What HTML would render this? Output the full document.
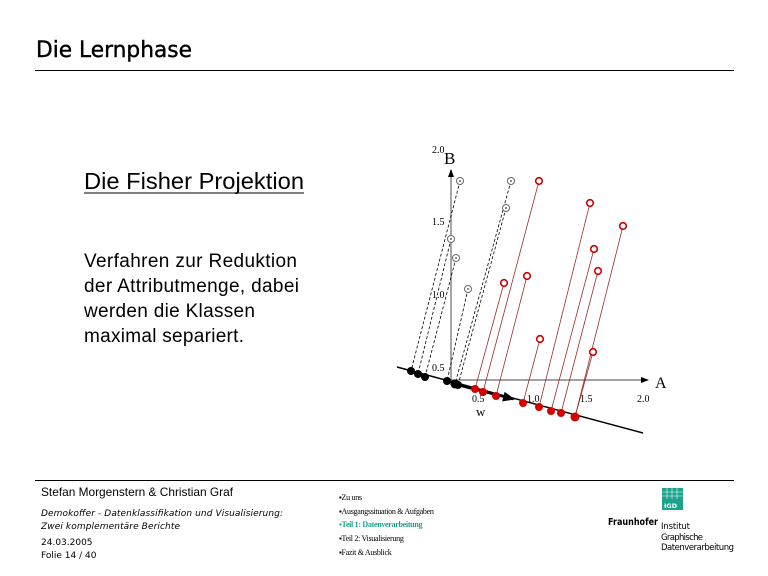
<!DOCTYPE html>
<html><head><meta charset="utf-8"><style>
html,body{margin:0;padding:0;background:#fff;width:768px;height:576px;overflow:hidden}
svg{display:block}
</style></head><body>
<svg width="768" height="576" viewBox="0 0 768 576" xmlns="http://www.w3.org/2000/svg">
<defs>
<marker id="ah" markerWidth="8" markerHeight="8" refX="7" refY="4" orient="auto" markerUnits="userSpaceOnUse"><path d="M0,1 L8,4 L0,7z" fill="#000"/></marker>
<marker id="ah2" markerWidth="12" markerHeight="10" refX="10" refY="5" orient="auto" markerUnits="userSpaceOnUse"><path d="M0,0 L12,5 L0,10z" fill="#000"/></marker>
</defs>
<text x="36" y="57" font-family="DejaVu Sans, sans-serif" font-size="22" fill="#000" stroke="#000" stroke-width="0.4" textLength="156" lengthAdjust="spacingAndGlyphs">Die Lernphase</text>
<line x1="35" y1="70.5" x2="734" y2="70.5" stroke="#000" stroke-width="1"/>

<text x="84" y="189" font-family="Liberation Sans, sans-serif" font-size="23" fill="#000" textLength="220" lengthAdjust="spacingAndGlyphs">Die Fisher Projektion</text>
<line x1="84" y1="193" x2="304" y2="193" stroke="#000" stroke-width="1"/>
<g font-family="Liberation Sans, sans-serif" font-size="19" fill="#000" lengthAdjust="spacingAndGlyphs">
<text x="84" y="267" textLength="213">Verfahren zur Reduktion</text>
<text x="84" y="292" textLength="215">der Attributmenge, dabei</text>
<text x="84" y="317" textLength="171">werden die Klassen</text>
<text x="84" y="342" textLength="160">maximal separiert.</text>
</g>

<line x1="451" y1="385" x2="451" y2="170" stroke="#888" stroke-width="1.5" marker-end="url(#ah)"/>
<line x1="451" y1="380" x2="648" y2="380" stroke="#444" stroke-width="1" marker-end="url(#ah)"/>
<g font-family="Liberation Serif, serif" font-size="10" fill="#000">
<text x="432" y="153">2.0</text>
<text x="432" y="225">1.5</text>
<text x="432" y="298">1.0</text>
<text x="432" y="371">0.5</text>
<text x="472" y="402">0.5</text>
<text x="527" y="402">1.0</text>
<text x="580" y="402">1.5</text>
<text x="637" y="402">2.0</text>
<text x="476" y="416" font-size="13">w</text>
</g>
<text x="444" y="164" font-family="Liberation Serif, serif" font-size="17">B</text>
<text x="655" y="388" font-family="Liberation Serif, serif" font-size="16">A</text>

<line x1="397" y1="367" x2="643" y2="433" stroke="#000" stroke-width="1.5"/>
<line x1="458" y1="385" x2="513" y2="399" stroke="#000" stroke-width="2.5" marker-end="url(#ah2)"/>

<g stroke="#000" stroke-width="0.8" stroke-dasharray="3,2" fill="none">
<line x1="460" y1="181" x2="411" y2="371"/>
<line x1="451" y1="239" x2="418" y2="374"/>
<line x1="456" y1="258" x2="425" y2="377"/>
<line x1="468" y1="289" x2="447" y2="381"/>
<line x1="511" y1="181" x2="455" y2="384"/>
<line x1="506" y1="208" x2="458" y2="385"/>
</g>
<g stroke="#9b2a2a" stroke-width="0.8" fill="none">
<line x1="504" y1="283" x2="475" y2="389"/>
<line x1="539" y1="181" x2="483" y2="392"/>
<line x1="527" y1="276" x2="496" y2="396"/>
<line x1="540" y1="339" x2="523" y2="403"/>
<line x1="590" y1="203" x2="539" y2="407"/>
<line x1="594" y1="249" x2="551" y2="411"/>
<line x1="598" y1="271" x2="561" y2="413"/>
<line x1="593" y1="352" x2="575" y2="417"/>
<line x1="623" y1="226" x2="575" y2="417"/>
</g>
<g stroke="#666" fill="#fff" stroke-width="1">
<circle cx="460" cy="181" r="3.5"/><circle cx="511" cy="181" r="3.5"/><circle cx="506" cy="208" r="3.5"/>
<circle cx="451" cy="239" r="3.5"/><circle cx="456" cy="258" r="3.5"/><circle cx="468" cy="289" r="3.5"/>
</g>
<g fill="#666"><circle cx="460" cy="181" r="1"/><circle cx="511" cy="181" r="1"/><circle cx="506" cy="208" r="1"/><circle cx="451" cy="239" r="1"/><circle cx="456" cy="258" r="1"/><circle cx="468" cy="289" r="1"/></g>
<g stroke="#cc0000" fill="#fff" stroke-width="1.6">
<circle cx="539" cy="181" r="3.3"/><circle cx="590" cy="203" r="3.3"/><circle cx="623" cy="226" r="3.3"/>
<circle cx="594" cy="249" r="3.3"/><circle cx="598" cy="271" r="3.3"/><circle cx="527" cy="276" r="3.3"/>
<circle cx="504" cy="283" r="3.3"/><circle cx="540" cy="339" r="3.3"/><circle cx="593" cy="352" r="3.3"/>
</g>
<g fill="#000">
<circle cx="411" cy="371" r="4"/><circle cx="418" cy="374" r="4"/><circle cx="425" cy="377" r="4"/>
<circle cx="447" cy="381" r="4"/><circle cx="455" cy="384" r="4.5"/><circle cx="458" cy="385" r="4"/>
</g>
<g fill="#d40000">
<circle cx="475" cy="389" r="4"/><circle cx="483" cy="392" r="4"/><circle cx="496" cy="396" r="4"/>
<circle cx="523" cy="403" r="4"/><circle cx="539" cy="407" r="4"/><circle cx="551" cy="411" r="4"/>
<circle cx="561" cy="413" r="4"/><circle cx="575" cy="417" r="4.5"/>
</g>

<line x1="35" y1="480.5" x2="734" y2="480.5" stroke="#000" stroke-width="1"/>
<text x="41" y="496" font-family="Liberation Sans, sans-serif" font-size="12" textLength="192" lengthAdjust="spacingAndGlyphs">Stefan Morgenstern &amp; Christian Graf</text>
<g font-family="DejaVu Sans, sans-serif" font-size="9" font-style="italic" lengthAdjust="spacingAndGlyphs">
<text x="41" y="516" textLength="242">Demokoffer - Datenklassifikation und Visualisierung:</text>
<text x="41" y="529" textLength="139">Zwei komplementäre Berichte</text>
</g>
<g font-family="DejaVu Sans, sans-serif" font-size="9">
<text x="41" y="545">24.03.2005</text>
<text x="41" y="558">Folie 14 / 40</text>
</g>
<g font-family="Liberation Serif, serif" font-size="8" letter-spacing="-0.3">
<text x="339" y="500">▪Zu uns</text>
<text x="339" y="514">▪Ausgangssituation &amp; Aufgaben</text>
<text x="339" y="527" fill="#1aa38a" font-weight="bold">▪Teil 1: Datenverarbeitung</text>
<text x="339" y="541">▪Teil 2: Visualisierung</text>
<text x="339" y="555">▪Fazit &amp; Ausblick</text>
</g>
<rect x="662" y="488" width="21" height="22" fill="#1aa38a"/>
<g stroke="#fff" stroke-width="0.6">
<line x1="662" y1="492" x2="683" y2="492"/><line x1="662" y1="496" x2="683" y2="496"/>
<line x1="667" y1="488" x2="667" y2="499"/><line x1="672" y1="488" x2="672" y2="499"/><line x1="677" y1="488" x2="677" y2="499"/>
</g>
<text x="664" y="508" font-family="DejaVu Sans, sans-serif" font-size="6.5" font-weight="bold" fill="#fff">IGD</text>
<text x="608" y="525" font-family="DejaVu Sans, sans-serif" font-size="10" font-weight="bold" textLength="50" lengthAdjust="spacingAndGlyphs">Fraunhofer</text>
<g font-family="DejaVu Sans, sans-serif" font-size="8.5" lengthAdjust="spacingAndGlyphs">
<text x="661" y="529" textLength="29">Institut</text>
<text x="661" y="540" textLength="42">Graphische</text>
<text x="661" y="550" textLength="73">Datenverarbeitung</text>
</g>
</svg>
</body></html>
